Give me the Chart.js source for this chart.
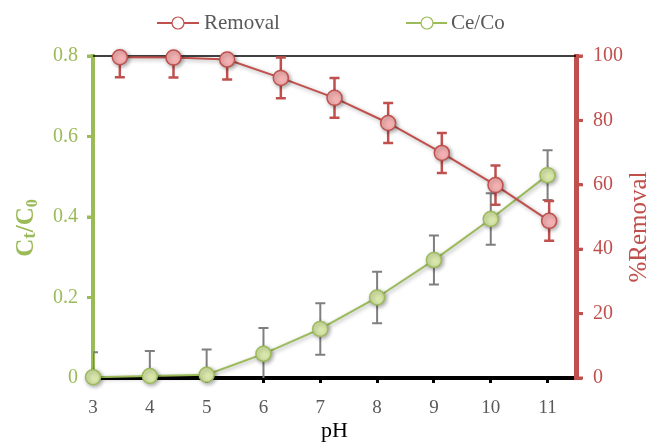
<!DOCTYPE html>
<html><head><meta charset="utf-8">
<script src="https://cdn.jsdelivr.net/npm/chart.js@4"></script>
<style>html,body{margin:0;padding:0;background:#fff}#wrap{width:670px;height:445px;position:relative}canvas{display:block}</style>
</head><body><div id="wrap"><canvas id="c" width="670" height="445" style="width:670px;height:445px"></canvas></div>
<script>
// ---- data ----
const phLabels = ['3','4','5','6','7','8','9','10','11'];
const phValues = [3,4,5,6,7,8,9,10,11];
const ceCo = [0.002,0.005,0.008,0.060,0.122,0.200,0.293,0.395,0.504];
const ceCoErr = [0.062,0.062,0.063,0.064,0.064,0.064,0.061,0.064,0.062];
const removal = [99.6,99.5,98.9,93.2,87.0,79.2,69.9,59.9,48.8];
const removalErr = [6.2,6.2,6.2,6.3,6.2,6.2,6.2,6.1,6.2];
const xTicks = [3,4,5,6,7,8,9,10,11];
const leftTicks = [0,0.2,0.4,0.6,0.8];
const rightTicks = [0,20,40,60,80,100];

const RED = '#c0504d', GREEN = '#9bbb59', GRAY = '#595959';
const FONT = "'Liberation Serif','Times New Roman',serif";
Chart.defaults.font.family = FONT;

const errorBars = {
  id: 'errorBars',
  beforeDatasetsDraw(chart) {
    const ctx = chart.ctx, a = chart.chartArea;
    ctx.save();
    ctx.strokeStyle = '#000'; ctx.lineWidth = 1.5;
    ctx.beginPath(); ctx.moveTo(a.left, a.top); ctx.lineTo(a.right, a.top); ctx.stroke();
    // y-axis tick marks (outward)
    ctx.lineWidth = 3;
    ctx.strokeStyle = GREEN;
    leftTicks.forEach(v => { const y = chart.scales.y.getPixelForValue(v); ctx.beginPath(); ctx.moveTo(a.left - 6, y); ctx.lineTo(a.left, y); ctx.stroke(); });
    ctx.strokeStyle = RED;
    rightTicks.forEach(v => { const y = chart.scales.y2.getPixelForValue(v); ctx.beginPath(); ctx.moveTo(a.right, y); ctx.lineTo(a.right + 7, y); ctx.stroke(); });
    ctx.beginPath(); ctx.rect(a.left, a.top, a.right - a.left, a.bottom - a.top); ctx.clip();
    const draw = (di, vals, errs, color, w, cap) => {
      const meta = chart.getDatasetMeta(di);
      const ys = chart.scales[meta.yAxisID];
      ctx.strokeStyle = color; ctx.lineWidth = w;
      meta.data.forEach((pt, i) => {
        const x = pt.x;
        const yT = ys.getPixelForValue(vals[i] + errs[i]);
        const yB = ys.getPixelForValue(vals[i] - errs[i]);
        ctx.beginPath();
        ctx.moveTo(x, yT); ctx.lineTo(x, yB);
        ctx.moveTo(x - cap, yT); ctx.lineTo(x + cap, yT);
        ctx.moveTo(x - cap, yB); ctx.lineTo(x + cap, yB);
        ctx.stroke();
      });
    };
    draw(1, ceCo, ceCoErr, '#7f7f7f', 2, 5);
    draw(0, removal, removalErr, RED, 2.5, 5);
    ctx.restore();
  }
};

const shadow = {
  id: 'shadow',
  beforeDatasetDraw(chart) {
    const ctx = chart.ctx; ctx.save();
    ctx.shadowColor = 'rgba(0,0,0,0.35)'; ctx.shadowBlur = 4;
    ctx.shadowOffsetX = 1.5; ctx.shadowOffsetY = 1.5;
  },
  afterDatasetDraw(chart) { chart.ctx.restore(); }
};

const overlay = {
  id: 'overlay',
  afterDraw(chart) {
    const ctx = chart.ctx, a = chart.chartArea;
    ctx.save();
    const item = (x1, x2, cx, tx, color, label) => {
      ctx.strokeStyle = color; ctx.lineWidth = 2;
      ctx.beginPath(); ctx.moveTo(x1, 23); ctx.lineTo(x2, 23); ctx.stroke();
      ctx.fillStyle = '#fff'; ctx.lineWidth = 1.2;
      ctx.beginPath(); ctx.arc(cx, 23, 6, 0, Math.PI * 2); ctx.fill(); ctx.stroke();
      ctx.fillStyle = GRAY; ctx.font = '21px ' + FONT;
      ctx.textAlign = 'left'; ctx.textBaseline = 'middle';
      ctx.fillText(label, tx, 23);
    };
    item(157, 199, 178, 204, RED, 'Removal');
    item(406, 447, 427, 451, GREEN, 'Ce/Co');
    ctx.fillStyle = '#000'; ctx.font = '22px ' + FONT;
    ctx.textAlign = 'center'; ctx.textBaseline = 'middle';
    ctx.fillText('pH', (a.left + a.right) / 2, 431);
    ctx.save();
    ctx.translate(639, 227); ctx.rotate(-Math.PI / 2);
    ctx.fillStyle = RED; ctx.font = '25px ' + FONT;
    ctx.fillText('%Removal', 0, 0);
    ctx.restore();
    ctx.save();
    ctx.translate(25, 228); ctx.rotate(-Math.PI / 2);
    ctx.fillStyle = GREEN; ctx.textAlign = 'left'; ctx.textBaseline = 'alphabetic';
    const parts = [['C', 'bold 25px ', 0], ['t', 'bold 19px ', 2], ['/C', 'bold 25px ', 0], ['0', 'bold 16px ', 4]];
    let total = 0;
    parts.forEach(p => { ctx.font = p[1] + FONT; total += ctx.measureText(p[0]).width; });
    let x = -total / 2;
    parts.forEach(p => { ctx.font = p[1] + FONT; ctx.fillText(p[0], x, 8 + p[2]); x += ctx.measureText(p[0]).width; });
    ctx.restore();
    ctx.restore();
  }
};

new Chart(document.getElementById('c'), {
  type: 'line',
  data: {
    datasets: [
      {
        label: 'Removal', data: removal, xAxisID: 'x2', yAxisID: 'y2',
        borderColor: RED, borderWidth: 2, pointRadius: 7.5, pointHoverRadius: 7.5,
        pointBackgroundColor: '#f4b1b2', pointBorderColor: RED, pointBorderWidth: 1.5,
        tension: 0, clip: false
      },
      {
        label: 'Ce/Co', data: phValues.map((x, i) => ({ x, y: ceCo[i] })), xAxisID: 'x', yAxisID: 'y',
        borderColor: GREEN, borderWidth: 2, pointRadius: 7.5, pointHoverRadius: 7.5,
        pointBackgroundColor: '#d9e7ab', pointBorderColor: GREEN, pointBorderWidth: 1.5,
        tension: 0, clip: false
      }
    ]
  },
  options: {
    responsive: false, animation: false, devicePixelRatio: 1,
    layout: { padding: { top: 56, left: 0, right: 0, bottom: 0 } },
    plugins: { legend: { display: false }, tooltip: { enabled: false } },
    scales: {
      x: {
        type: 'linear', position: 'bottom', min: 3, max: 11.5,
        afterBuildTicks: s => { s.ticks = xTicks.map(v => ({ value: v })); },
        afterFit: s => { s.height = 67; },
        border: { color: '#000', width: 4 },
        grid: { drawOnChartArea: false, drawTicks: true, color: '#000', lineWidth: 3, tickLength: 5 },
        ticks: { color: GRAY, font: { size: 19 }, padding: 14, maxRotation: 0, autoSkip: false }
      },
      x2: {
        type: 'category', labels: phLabels, offset: true, display: false,
        grid: { drawOnChartArea: false }
      },
      y: {
        type: 'linear', position: 'left', min: 0, max: 0.8,
        afterBuildTicks: s => { s.ticks = leftTicks.map(v => ({ value: v })); },
        afterFit: s => { s.width = 93; },
        border: { color: GREEN, width: 4 },
        grid: { drawOnChartArea: false, drawTicks: true, color: GREEN, lineWidth: 3, tickLength: 6 },
        ticks: { color: GREEN, font: { size: 20 }, padding: 9, callback: v => String(v) }
      },
      y2: {
        type: 'linear', position: 'right', min: 0, max: 100,
        afterBuildTicks: s => { s.ticks = rightTicks.map(v => ({ value: v })); },
        afterFit: s => { s.width = 94; },
        border: { color: RED, width: 5 },
        grid: { drawOnChartArea: false, drawTicks: true, color: RED, lineWidth: 3, tickLength: 6 },
        ticks: { color: RED, font: { size: 20 }, padding: 11, callback: v => String(v) }
      }
    }
  },
  plugins: [errorBars, shadow, overlay]
});
</script></body></html>
